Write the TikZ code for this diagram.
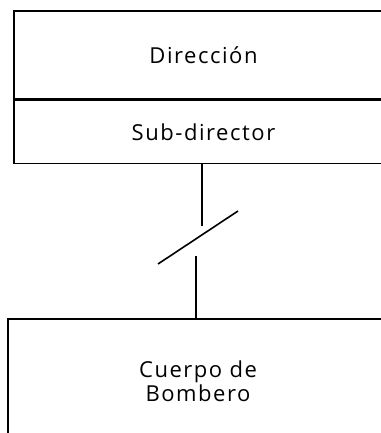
\documentclass[tikz,border=0pt]{standalone}
\usepackage{fontspec}
\setmainfont[LetterSpace=7]{Open Sans}
\begin{document}
\begin{tikzpicture}[x=1pt,y=-1pt,
  box/.style={draw=black, line width=1.6pt, rectangle, inner sep=0pt, align=center,
    font=\fontsize{22}{24}\selectfont},
  link/.style={draw=black, line width=1.6pt}]
\useasboundingbox (0,0) rectangle (380,433);
\node[box, minimum width=379pt, minimum height=88pt] (dir) at (203.5,55) {Direcci\'on};
\node[box, minimum width=379pt, minimum height=63pt, anchor=north] (sub) at (dir.south) {Sub-director};
\node[box, minimum width=380pt, minimum height=124pt] (cuerpo) at (198,381) {Cuerpo de\\Bombero};
\coordinate (b1) at (202,226);
\coordinate (b2) at (196,256);
\coordinate (s1) at (158,264);
\coordinate (s2) at (238,211);
\draw[link] ([xshift=-1.5pt]sub.south) -- (b1);
\draw[link] (b2) -- ([xshift=-2pt]cuerpo.north);
\draw[link] (s1) -- (s2);
\end{tikzpicture}
\end{document}
